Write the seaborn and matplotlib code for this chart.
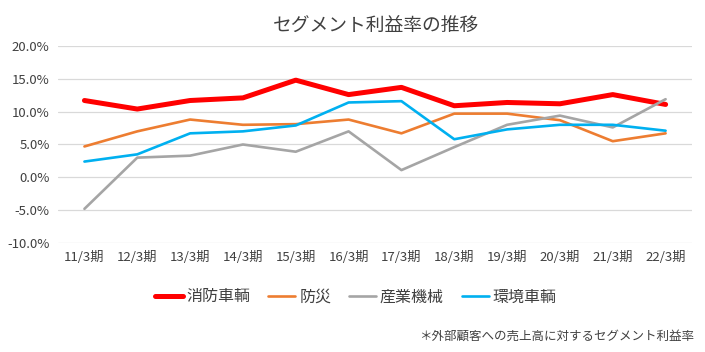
import pandas as pd
import matplotlib.pyplot as plt
import seaborn as sns

# データ
periods = ['11/3期', '12/3期', '13/3期', '14/3期', '15/3期', '16/3期',
           '17/3期', '18/3期', '19/3期', '20/3期', '21/3期', '22/3期']
shobo = [11.7, 10.4, 11.7, 12.1, 14.8, 12.6, 13.7, 10.9, 11.4, 11.2, 12.6, 11.1]
bousai = [4.7, 7.0, 8.8, 8.0, 8.1, 8.8, 6.7, 9.7, 9.7, 8.7, 5.5, 6.7]
sangyo = [-4.8, 3.0, 3.3, 5.0, 3.9, 7.0, 1.1, 4.6, 8.0, 9.4, 7.6, 11.9]
kankyo = [2.4, 3.5, 6.7, 7.0, 7.9, 11.4, 11.6, 5.8, 7.3, 8.0, 8.0, 7.1]

series = {'消防車輌': shobo, '防災': bousai, '産業機械': sangyo, '環境車輌': kankyo}
colors = {'消防車輌': '#FF0000', '防災': '#ED7D31', '産業機械': '#A5A5A5', '環境車輌': '#00B0F0'}
widths = {'消防車輌': 3.6, '防災': 1.9, '産業機械': 1.9, '環境車輌': 1.9}

rows = []
for name, vals in series.items():
    for i, v in enumerate(vals):
        rows.append({'idx': i, 'period': periods[i], 'value': v, 'segment': name})
df = pd.DataFrame(rows)

sns.set_theme(style='white')
plt.rcParams['font.family'] = ['Noto Sans CJK JP', 'DejaVu Sans']

fig = plt.figure(figsize=(7.05, 3.52), dpi=100)
ax = fig.add_axes([0.0823, 0.3097, 0.8993, 0.5596])

for name in series:
    sns.lineplot(data=df[df['segment'] == name], x='idx', y='value', ax=ax,
                 color=colors[name], linewidth=widths[name], label=name,
                 solid_capstyle='round', zorder=3)

ax.set_xlim(-0.5, len(periods) - 0.5)
ax.set_ylim(-10, 20)
ax.set_yticks(range(-10, 21, 5))
ax.set_yticklabels([f'{v:.1f}%' for v in range(-10, 21, 5)], fontsize=9.5, color='#404040')
ax.set_xticks(range(len(periods)))
ax.set_xticklabels(periods, fontsize=9.5, color='#404040')
ax.tick_params(axis='both', length=0, pad=6)
ax.yaxis.grid(True, color='#D9D9D9', linewidth=0.9)
ax.xaxis.grid(False)
for s in ax.spines.values():
    s.set_visible(False)
ax.set_xlabel('')
ax.set_ylabel('')

fig.text(0.533, 0.925, 'セグメント利益率の推移', ha='center', va='center',
         fontsize=13.5, color='#404040')

ax.legend(loc='center', bbox_to_anchor=(0.47, -0.274), ncol=4, frameon=False,
          fontsize=11.5, handlelength=1.7, columnspacing=1.1, handletextpad=0.25,
          labelcolor='#404040')

fig.text(0.984, 0.045, '＊外部顧客への売上高に対するセグメント利益率', ha='right',
         va='center', fontsize=9, color='#404040')

plt.savefig('out.png', dpi=100)
